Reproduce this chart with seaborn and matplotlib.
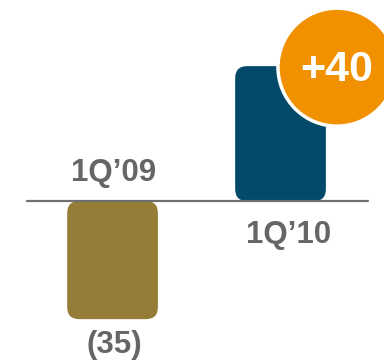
import matplotlib
matplotlib.use('Agg')
import matplotlib.pyplot as plt
import seaborn as sns
import pandas as pd
from matplotlib.patches import FancyBboxPatch, Ellipse

# datos
quarters = ['1Q’09', '1Q’10']
values = [-35, 40]
value_labels = ['(35)', '']
change_label = '+40'
bar_colors = ['#967D37', '#02496A']

df = pd.DataFrame({'quarter': quarters, 'value': values})

sns.set_style('white')
plt.rcParams['font.family'] = ['Liberation Sans', 'DejaVu Sans']

fig = plt.figure(figsize=(3.84, 3.62), dpi=100)
ax = fig.add_axes([0, 0, 1, 1])

sns.barplot(data=df, x='quarter', y='value', hue='quarter', palette=bar_colors,
            width=0.54, saturation=1, legend=False, ax=ax)

ax.set_xlim(-0.67, 1.616)
ax.set_ylim(-47.7, 59.6)

# barras con esquinas redondeadas
px_x = 384 / (1.616 + 0.67)
px_y = 362 / (59.6 + 47.7)
for p in list(ax.patches):
    x0, y0 = p.get_x(), p.get_y()
    w, h = p.get_width(), p.get_height()
    if h < 0:
        y0, h = y0 + h, -h
    fc = p.get_facecolor()
    p.remove()
    r = 12 / px_x
    ax.add_patch(FancyBboxPatch((x0, y0), w, h,
                                boxstyle=f'round,pad=0,rounding_size={r}',
                                mutation_aspect=px_x / px_y,
                                fc=fc, ec='none', zorder=2))

# linea base
ax.axhline(0, xmin=0.07, xmax=0.958, color='#707070', lw=1.6, zorder=3)

gray = '#666666'
ax.text(0.005, 8.2, quarters[0], ha='center', va='center', fontsize=22.5,
        fontweight='bold', color=gray)
ax.text(1.05, -10.2, quarters[1], ha='center', va='center', fontsize=22.5,
        fontweight='bold', color=gray)
ax.text(0.01, -42.6, value_labels[0], ha='center', va='center', fontsize=22.5,
        fontweight='bold', color=gray)

# circulo naranja
cx, cy, rad = 1.336, 39.7, 59
ax.add_patch(Ellipse((cx, cy), 2 * rad / px_x, 2 * rad / px_y,
                     fc='#F29100', ec='white', lw=2.5, zorder=4))
ax.text(cx, cy - 0.8, change_label, ha='center', va='center', fontsize=31,
        fontweight='bold', color='white', zorder=5)

ax.axis('off')
plt.savefig('out.png', dpi=100)
